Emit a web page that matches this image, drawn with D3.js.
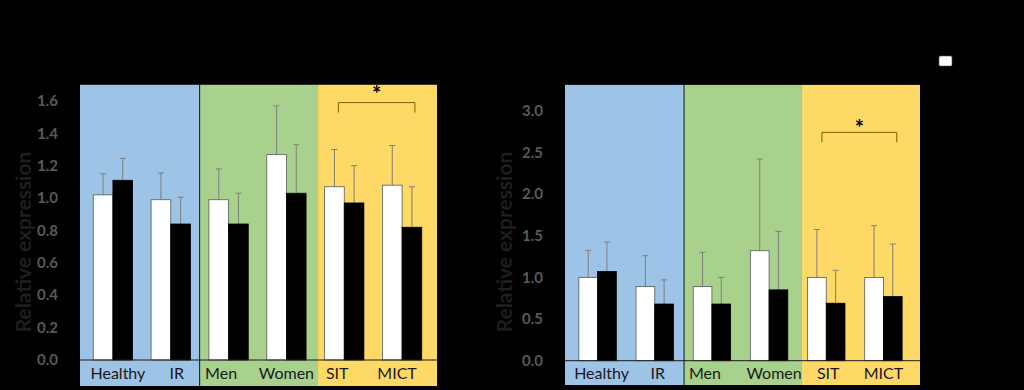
<!DOCTYPE html>
<html><head><meta charset="utf-8">
<script src="https://cdn.jsdelivr.net/npm/d3@7"></script>
<style>
html,body{margin:0;padding:0;background:#000;}
svg{display:block;}
</style></head>
<body>
<svg id="c" width="1024" height="390"></svg>
<script>
const categories = ["Healthy","IR","Men","Women","SIT","MICT"];
const groups = [
  {name:"health", cats:["Healthy","IR"], color:"#9dc3e6"},
  {name:"sex", cats:["Men","Women"], color:"#a9d18e"},
  {name:"training", cats:["SIT","MICT"], color:"#ffd966"}
];
const seriesNames = ["Pre","Post"];
// Panel A
const aPre    = [1.02, 0.99, 0.99, 1.27, 1.07, 1.08];
const aPreErr = [0.13, 0.165, 0.19, 0.30, 0.23, 0.245];
const aPost   = [1.11, 0.84, 0.84, 1.03, 0.97, 0.82];
const aPostErr= [0.135, 0.165, 0.19, 0.30, 0.23, 0.25];
const aTicks  = [0.0,0.2,0.4,0.6,0.8,1.0,1.2,1.4,1.6];
// Panel B
const bPre    = [1.00, 0.89, 0.89, 1.32, 1.00, 1.00];
const bPreErr = [0.325, 0.37, 0.41, 1.10, 0.575, 0.62];
const bPost   = [1.07, 0.68, 0.68, 0.85, 0.69, 0.77];
const bPostErr= [0.355, 0.29, 0.32, 0.70, 0.395, 0.63];
const bTicks  = [0.0,0.5,1.0,1.5,2.0,2.5,3.0];

const svg = d3.select("#c");
const FONT = "Lato, 'Open Sans', 'DejaVu Sans', sans-serif";

function panel(cfg){
  const g = svg.append("g");
  const x = d3.scaleBand().domain(categories).range(cfg.xr).paddingInner(cfg.pad).paddingOuter(cfg.pad/2);
  const xs = d3.scaleBand().domain(seriesNames).range([0, x.bandwidth()]);
  const y = d3.scaleLinear().domain([0, cfg.ymax]).range([cfg.y0, cfg.y0 - cfg.ymax*cfg.ppu]);
  const step = x.step();
  const left = c => x(c) - x.paddingInner()*step/2;
  const bounds = [left("Healthy"), left("Men"), left("SIT"), left("MICT")+step].map((b,i)=>b+cfg.bgOff[i]);
  // backgrounds
  groups.forEach((gr,i)=>{
    g.append("rect").attr("x",bounds[i]).attr("y",y(cfg.ymax)).attr("width",bounds[i+1]-bounds[i])
      .attr("height", cfg.bottom - y(cfg.ymax)).attr("fill",gr.color);
  });
  // divider between blue and green
  g.append("line").attr("x1",bounds[1]).attr("x2",bounds[1]).attr("y1",y(cfg.ymax)).attr("y2",cfg.bottom)
    .attr("stroke","#1a1a1a").attr("stroke-width",1);
  // y ticks
  g.selectAll(".yt").data(cfg.ticks).join("text")
    .attr("x", cfg.tickX).attr("y", d=>y(d)).attr("dy","0.35em")
    .attr("text-anchor","end").attr("font-family",FONT).attr("font-weight","bold")
    .attr("font-size",15).attr("fill","#595959").text(d=>d.toFixed(1));
  // y label
  g.append("text").attr("transform",`translate(${cfg.labX},${cfg.labY}) rotate(-90)`)
    .attr("text-anchor","middle").attr("font-family",FONT).attr("font-weight","bold")
    .attr("font-size",21).attr("fill","#1e1e1e").text("Relative expression");
  // bars
  const data = categories.map((c,i)=>[
    {c, s:"Pre", v:cfg.pre[i], e:cfg.preErr[i]},
    {c, s:"Post", v:cfg.post[i], e:cfg.postErr[i]}
  ]).flat();
  const cx = d => x(d.c)+xs(d.s)+xs.bandwidth()/2;
  const eb = g.selectAll(".eb").data(data).join("g");
  eb.append("line")
    .attr("x1", cx).attr("x2", cx)
    .attr("y1", d=>y(d.v)).attr("y2", d=>y(d.v+d.e)).attr("stroke","#7f7f7f").attr("stroke-width",1);
  eb.append("line")
    .attr("x1", d=>cx(d)-3).attr("x2", d=>cx(d)+3)
    .attr("y1", d=>y(d.v+d.e)).attr("y2", d=>y(d.v+d.e)).attr("stroke","#7f7f7f").attr("stroke-width",1);
  g.selectAll(".bar").data(data).join("rect")
    .attr("x", d=>x(d.c)+xs(d.s)).attr("width", xs.bandwidth())
    .attr("y", d=>y(d.v)).attr("height", d=>y(0)-y(d.v))
    .attr("fill", d=>d.s==="Pre"?"#ffffff":"#000000")
    .attr("stroke", d=>d.s==="Pre"?"#595959":"#000000").attr("stroke-width",0.8);
  // baseline
  g.append("line").attr("x1", bounds[0]).attr("x2", bounds[3])
    .attr("y1", y(0)).attr("y2", y(0)).attr("stroke","#1a1a1a").attr("stroke-width",1);
  // x labels
  g.selectAll(".xl").data(categories).join("text")
    .attr("x", (d,i)=>x(d)+x.bandwidth()/2 + cfg.labOff[i]).attr("y", cfg.xlabY)
    .attr("text-anchor","middle").attr("font-family",FONT).attr("font-size",16)
    .attr("fill","#1a1a1a").text(d=>d);
  // significance bracket
  const bx1 = x("SIT")+xs("Pre")+xs.bandwidth()/2 + cfg.brOff[0];
  const bx2 = x("MICT")+xs("Post")+xs.bandwidth()/2 + cfg.brOff[1];
  const by = y(cfg.brY);
  g.append("path").attr("d", `M${bx1},${by+10}V${by}H${bx2}V${by+10}`)
    .attr("fill","none").attr("stroke","#7f6000").attr("stroke-width",1);
  g.append("text").attr("x",(bx1+bx2)/2).attr("y", by - cfg.starGap)
    .attr("text-anchor","middle").attr("font-family",FONT).attr("font-weight","bold")
    .attr("font-size",22).attr("fill","#000").text("*");
}

panel({xr:[84,431], pad:0.32, y0:360, ymax:1.7, ppu:161.9, bottom:386, bgOff:[-4,0,2.7,6],
  ticks:aTicks, tickX:58, labX:31, labY:242, xlabY:379, labOff:[5,6,-7.5,0,-7,-5],
  pre:aPre, preErr:aPreErr, post:aPost, postErr:aPostErr,
  brY:1.59, brOff:[4,3], starGap:1});
panel({xr:[569,912], pad:0.345, y0:360.7, ymax:3.31, ppu:83.33, bottom:385, bgOff:[-4,0.7,4.3,8],
  ticks:bTicks, tickX:543, labX:512, labY:242, xlabY:379, labOff:[4,3,-7,5,2,0],
  pre:bPre, preErr:bPreErr, post:bPost, postErr:bPostErr,
  brY:2.74, brOff:[5,4], starGap:-4});

// legend swatch
svg.append("rect").attr("x",939).attr("y",56).attr("width",13).attr("height",10)
  .attr("rx",1.5).attr("fill","#fff").attr("stroke","#595959").attr("stroke-width",0.6);
</script>
</body></html>
